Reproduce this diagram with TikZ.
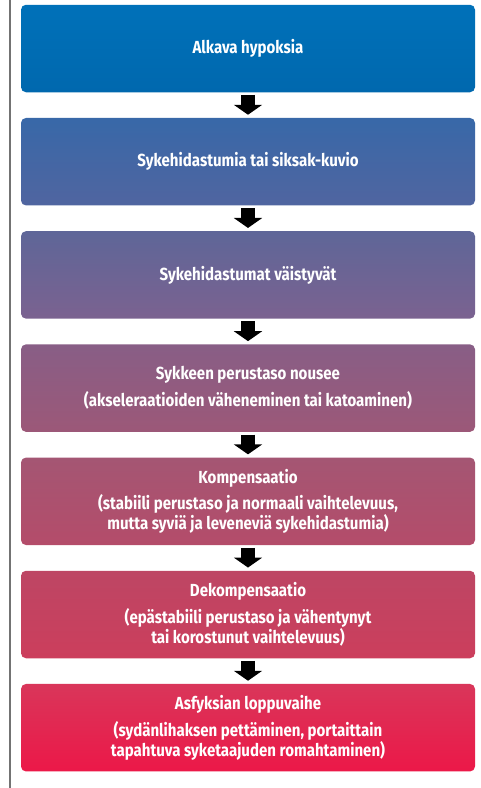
\documentclass[tikz,border=0pt]{standalone}
\usepackage{fontspec}
\usetikzlibrary{positioning, arrows.meta}
\newfontfamily\stagefont{Fira Sans}[FakeStretch=0.86]
\definecolor{hyp top}{HTML}{0071B9}
\definecolor{hyp bot}{HTML}{0068AE}
\definecolor{dec top}{HTML}{3868A8}
\definecolor{dec bot}{HTML}{5065A0}
\definecolor{fade top}{HTML}{5E6698}
\definecolor{fade bot}{HTML}{7B6290}
\definecolor{rise top}{HTML}{885E86}
\definecolor{rise bot}{HTML}{9C5878}
\definecolor{comp top}{HTML}{A45673}
\definecolor{comp bot}{HTML}{B44C6A}
\definecolor{decomp top}{HTML}{BD4664}
\definecolor{decomp bot}{HTML}{CC3E5C}
\definecolor{asph top}{HTML}{D9365A}
\definecolor{asph bot}{HTML}{EC1848}
\colorlet{side rule}{black!55}
\tikzset{
  stagebox/.style={rounded corners=5pt, minimum width=454pt, minimum height=87.5pt,
    inner sep=0pt, align=center, text=white,
    font=\stagefont\bfseries\fontsize{17.5}{18.5}\selectfont},
  shaded/.style 2 args={top color=#1, bottom color=#2},
  node distance=25.3pt
}

\begin{document}
\begin{tikzpicture}
	\tikzstyle{blockarrow}=[draw=black, line width=14pt, shorten <=2.5pt, shorten >=3pt,
	  -{Triangle[width=28pt, length=10pt]}]
	\useasboundingbox (0,0) rectangle (480pt,-788pt);

	\coordinate (rule top) at (10pt,0);
	\coordinate (rule bot) at (10pt,-788pt);
	\draw[side rule, line width=1.4pt] (rule top) -- (rule bot);

	\node [stagebox, shaded={hyp top}{hyp bot}] (hypoxia) at (248pt,-48.5pt) {Alkava hypoksia};
	\node [stagebox, shaded={dec top}{dec bot}, below = of hypoxia] (decels) {Sykehidastumia tai siksak-kuvio};
	\node [stagebox, shaded={fade top}{fade bot}, below = of decels] (fade) {Sykehidastumat väistyvät};
	\node [stagebox, shaded={rise top}{rise bot}, below = of fade] (rise)
	  {Sykkeen perustaso nousee\\[7pt](akseleraatioiden väheneminen tai katoaminen)};
	\node [stagebox, shaded={comp top}{comp bot}, below = of rise] (comp)
	  {Kompensaatio\\[7pt](stabiili perustaso ja normaali vaihtelevuus,\\mutta syviä ja leveneviä sykehidastumia)};
	\node [stagebox, shaded={decomp top}{decomp bot}, below = of comp] (decomp)
	  {Dekompensaatio\\[7pt](epästabiili perustaso ja vähentynyt\\tai korostunut vaihtelevuus)};
	\node [stagebox, shaded={asph top}{asph bot}, below = of decomp] (asph)
	  {Asfyksian loppuvaihe\\[7pt](sydänlihaksen pettäminen, portaittain\\tapahtuva syketaajuden romahtaminen)};

	\path[blockarrow] (hypoxia) -- (decels);
	\path[blockarrow] (decels) -- (fade);
	\path[blockarrow] (fade) -- (rise);
	\path[blockarrow] (rise) -- (comp);
	\path[blockarrow] (comp) -- (decomp);
	\path[blockarrow] (decomp) -- (asph);
\end{tikzpicture}
\end{document}
